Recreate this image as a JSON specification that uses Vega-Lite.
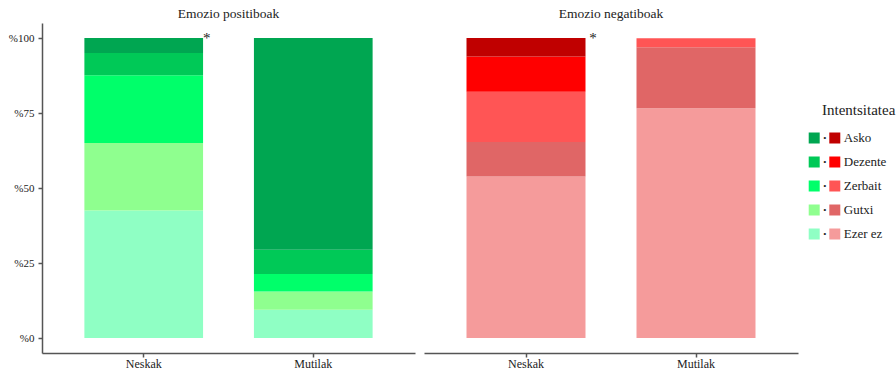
{
  "$schema": "https://vega.github.io/schema/vega-lite/v6.json",
  "background": "white",
  "padding": {"left": 8, "top": 6, "right": 0, "bottom": 0},
  "config": {
    "font": "Liberation Serif",
    "view": {"stroke": null},
    "title": {"font": "Liberation Serif", "fontSize": 13.5, "fontWeight": "normal", "color": "#222", "offset": 3},
    "axis": {"labelFont": "Liberation Serif", "labelColor": "#222", "domainColor": "#555", "tickColor": "#555", "domainWidth": 1.5, "tickWidth": 1.5, "grid": false, "title": null}
  },
  "datasets": {
    "bars": [
      {"emotion": "pos", "group": "Neskak", "level": "Ezer ez", "rank": 1, "pct": 42.5},
      {"emotion": "pos", "group": "Neskak", "level": "Gutxi", "rank": 2, "pct": 22.5},
      {"emotion": "pos", "group": "Neskak", "level": "Zerbait", "rank": 3, "pct": 22.6},
      {"emotion": "pos", "group": "Neskak", "level": "Dezente", "rank": 4, "pct": 7.4},
      {"emotion": "pos", "group": "Neskak", "level": "Asko", "rank": 5, "pct": 5.0},
      {"emotion": "pos", "group": "Mutilak", "level": "Ezer ez", "rank": 1, "pct": 9.4},
      {"emotion": "pos", "group": "Mutilak", "level": "Gutxi", "rank": 2, "pct": 6.1},
      {"emotion": "pos", "group": "Mutilak", "level": "Zerbait", "rank": 3, "pct": 5.8},
      {"emotion": "pos", "group": "Mutilak", "level": "Dezente", "rank": 4, "pct": 8.1},
      {"emotion": "pos", "group": "Mutilak", "level": "Asko", "rank": 5, "pct": 70.6},
      {"emotion": "neg", "group": "Neskak", "level": "Ezer ez", "rank": 1, "pct": 53.8},
      {"emotion": "neg", "group": "Neskak", "level": "Gutxi", "rank": 2, "pct": 11.5},
      {"emotion": "neg", "group": "Neskak", "level": "Zerbait", "rank": 3, "pct": 16.8},
      {"emotion": "neg", "group": "Neskak", "level": "Dezente", "rank": 4, "pct": 11.7},
      {"emotion": "neg", "group": "Neskak", "level": "Asko", "rank": 5, "pct": 6.2},
      {"emotion": "neg", "group": "Mutilak", "level": "Ezer ez", "rank": 1, "pct": 76.6},
      {"emotion": "neg", "group": "Mutilak", "level": "Gutxi", "rank": 2, "pct": 20.3},
      {"emotion": "neg", "group": "Mutilak", "level": "Zerbait", "rank": 3, "pct": 3.0},
      {"emotion": "neg", "group": "Mutilak", "level": "Dezente", "rank": 4, "pct": 0},
      {"emotion": "neg", "group": "Mutilak", "level": "Asko", "rank": 5, "pct": 0}
    ],
    "stars": [
      {"emotion": "pos", "group": "Neskak", "label": "*", "top": 100},
      {"emotion": "neg", "group": "Neskak", "label": "*", "top": 100}
    ],
    "legend": [
      {"side": "pos", "level": "Asko"}, {"side": "neg", "level": "Asko"},
      {"side": "pos", "level": "Dezente"}, {"side": "neg", "level": "Dezente"},
      {"side": "pos", "level": "Zerbait"}, {"side": "neg", "level": "Zerbait"},
      {"side": "pos", "level": "Gutxi"}, {"side": "neg", "level": "Gutxi"},
      {"side": "pos", "level": "Ezer ez"}, {"side": "neg", "level": "Ezer ez"}
    ]
  },
  "spacing": 9,
  "hconcat": [
    {
      "title": "Emozio positiboak",
      "width": 373,
      "height": 330,
      "layer": [
        {
          "data": {"name": "bars"},
          "transform": [{"filter": "datum.emotion == 'pos'"}],
          "mark": {"type": "bar"},
          "encoding": {
            "x": {"field": "group", "type": "nominal", "sort": ["Neskak", "Mutilak"], "scale": {"paddingInner": 0.3, "paddingOuter": 0.25}, "axis": {"labelAngle": 0, "labelFontSize": 12, "tickSize": 4, "labelPadding": 1}},
            "y": {"field": "pct", "type": "quantitative", "stack": "zero", "scale": {"domain": [-5, 105], "nice": false, "zero": false}, "axis": {"values": [0, 25, 50, 75, 100], "labelExpr": "'%' + datum.value", "labelFontSize": 11, "tickSize": 4, "labelPadding": 4}},
            "order": {"field": "rank", "type": "quantitative", "sort": "ascending"},
            "color": {"field": "level", "type": "nominal", "scale": {"domain": ["Ezer ez", "Gutxi", "Zerbait", "Dezente", "Asko"], "range": ["#8FFFC4", "#8FFF8F", "#00FF6A", "#00C957", "#00A651"]}, "legend": null}
          }
        },
        {
          "data": {"name": "stars"},
          "transform": [{"filter": "datum.emotion == 'pos'"}],
          "mark": {"type": "text", "dx": 63, "baseline": "middle", "fontSize": 15, "color": "#222"},
          "encoding": {
            "x": {"field": "group", "type": "nominal", "sort": ["Neskak", "Mutilak"]},
            "y": {"field": "top", "type": "quantitative"},
            "text": {"field": "label"}
          }
        }
      ]
    },
    {
      "title": "Emozio negatiboak",
      "width": 374,
      "height": 330,
      "layer": [
        {
          "data": {"name": "bars"},
          "transform": [{"filter": "datum.emotion == 'neg'"}],
          "mark": {"type": "bar"},
          "encoding": {
            "x": {"field": "group", "type": "nominal", "sort": ["Neskak", "Mutilak"], "scale": {"paddingInner": 0.3, "paddingOuter": 0.25}, "axis": {"labelAngle": 0, "labelFontSize": 12, "tickSize": 4, "labelPadding": 1}},
            "y": {"field": "pct", "type": "quantitative", "stack": "zero", "scale": {"domain": [-5, 105], "nice": false, "zero": false}, "axis": null},
            "order": {"field": "rank", "type": "quantitative", "sort": "ascending"},
            "color": {"field": "level", "type": "nominal", "scale": {"domain": ["Ezer ez", "Gutxi", "Zerbait", "Dezente", "Asko"], "range": ["#F59B9B", "#E06666", "#FF5555", "#FF0000", "#C00000"]}, "legend": null}
          }
        },
        {
          "data": {"name": "stars"},
          "transform": [{"filter": "datum.emotion == 'neg'"}],
          "mark": {"type": "text", "dx": 67, "baseline": "middle", "fontSize": 15, "color": "#222"},
          "encoding": {
            "x": {"field": "group", "type": "nominal", "sort": ["Neskak", "Mutilak"]},
            "y": {"field": "top", "type": "quantitative"},
            "text": {"field": "label"}
          }
        }
      ]
    },
    {
      "title": {"text": "Intentsitatea", "anchor": "start", "dx": 15, "dy": 98, "fontSize": 15},
      "width": 35,
      "height": 330,
      "data": {"name": "legend"},
      "layer": [
        {
          "transform": [{"filter": "datum.side == 'pos'"}],
          "mark": {"type": "square", "size": 121, "opacity": 1, "filled": true},
          "encoding": {
            "x": {"field": "side", "type": "nominal", "scale": {"type": "point", "domain": ["pos", "neg"], "padding": 0.35}, "axis": null},
            "y": {"field": "level", "type": "nominal", "scale": {"type": "point", "domain": ["Asko", "Dezente", "Zerbait", "Gutxi", "Ezer ez"], "range": [115, 211], "padding": 0}, "axis": null},
            "color": {"field": "level", "type": "nominal", "scale": {"domain": ["Ezer ez", "Gutxi", "Zerbait", "Dezente", "Asko"], "range": ["#8FFFC4", "#8FFF8F", "#00FF6A", "#00C957", "#00A651"]}, "legend": null}
          }
        },
        {
          "transform": [{"filter": "datum.side == 'neg'"}],
          "mark": {"type": "square", "size": 121, "opacity": 1, "filled": true},
          "encoding": {
            "x": {"field": "side", "type": "nominal"},
            "y": {"field": "level", "type": "nominal"},
            "color": {"field": "level", "type": "nominal", "scale": {"domain": ["Ezer ez", "Gutxi", "Zerbait", "Dezente", "Asko"], "range": ["#F59B9B", "#E06666", "#FF5555", "#FF0000", "#C00000"]}, "legend": null}
          }
        },
        {
          "transform": [{"filter": "datum.side == 'pos'"}],
          "mark": {"type": "text", "text": "•", "dx": 10.5, "fontSize": 9, "baseline": "middle", "color": "#222"},
          "encoding": {
            "x": {"field": "side", "type": "nominal"},
            "y": {"field": "level", "type": "nominal"}
          }
        },
        {
          "transform": [{"filter": "datum.side == 'neg'"}],
          "mark": {"type": "text", "align": "left", "dx": 9, "fontSize": 13, "baseline": "middle", "color": "#222"},
          "encoding": {
            "x": {"field": "side", "type": "nominal"},
            "y": {"field": "level", "type": "nominal"},
            "text": {"field": "level"}
          }
        }
      ],
      "resolve": {"scale": {"color": "independent"}}
    }
  ],
  "resolve": {"scale": {"color": "independent", "x": "independent", "y": "independent"}}
}
